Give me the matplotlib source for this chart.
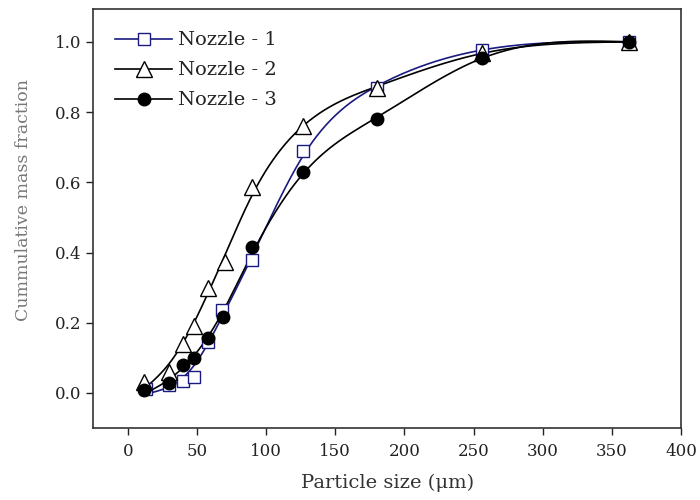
import numpy as np
import matplotlib
matplotlib.use("Agg")
import matplotlib.pyplot as plt

# particle size (um) and cumulative mass fraction
size1 = [13, 30, 40, 48, 58, 68, 90, 127, 180, 256, 362]
frac1 = [0.01, 0.023, 0.034, 0.046, 0.145, 0.236, 0.38, 0.69, 0.87, 0.977, 1.0]

size2 = [12, 30, 40, 48, 58, 70, 90, 127, 180, 256, 362]
frac2 = [0.031, 0.06, 0.14, 0.19, 0.30, 0.373, 0.587, 0.76, 0.87, 0.968, 1.0]

size3 = [12, 30, 40, 48, 58, 69, 90, 127, 180, 256, 362]
frac3 = [0.008, 0.028, 0.08, 0.10, 0.157, 0.217, 0.416, 0.63, 0.78, 0.955, 1.0]

labels = ["Nozzle - 1", "Nozzle - 2", "Nozzle - 3"]


def smooth_line(x, y, n=400, lam=2000.0):
    # penalised least squares (smoothing spline style) so the line is smooth
    # and runs close to the points, like the fitted curves in the original
    x = np.asarray(x, float)
    y = np.asarray(y, float)
    g = np.linspace(x[0], x[-1], n)
    h = g[1] - g[0]
    B = np.zeros((len(x), n))
    for i, xi in enumerate(x):
        k = min(int((xi - g[0]) / h), n - 2)
        t = (xi - g[k]) / h
        B[i, k] = 1 - t
        B[i, k + 1] = t
    D = np.zeros((n - 2, n))
    for i in range(n - 2):
        D[i, i:i + 3] = [1, -2, 1]
    D /= h**2
    f = np.linalg.solve(B.T @ B + lam * h * D.T @ D, B.T @ y)
    return g, f


plt.rcParams['font.family'] = ['DejaVu Serif']

fig = plt.figure(figsize=(7, 5), dpi=100)
ax = fig.add_axes([0.133, 0.144, 0.840, 0.838])

series = [
    (size1, frac1, '#1a1a80', dict(marker='s', mfc='white', mec='#1a1a80', ms=9, mew=1.0)),
    (size2, frac2, 'black', dict(marker='^', mfc='white', mec='black', ms=11, mew=1.0)),
    (size3, frac3, 'black', dict(marker='o', mfc='black', mec='black', ms=9)),
]

for (xs, ys, col, mk), lab in zip(series, labels):
    gx, gy = smooth_line(xs, ys)
    ax.plot(gx, gy, color=col, lw=1.2, zorder=2)
    ax.plot(xs, ys, ls='none', zorder=3, **mk)
    # legend proxy
    ax.plot([], [], color=col, lw=1.2, label=lab, **mk)

ax.set_xlim(-25, 400)
ax.set_ylim(-0.1, 1.094)
ax.set_xticks(np.arange(0, 401, 50))
ax.set_yticks(np.arange(0, 1.01, 0.2))
ax.yaxis.set_major_formatter(matplotlib.ticker.FormatStrFormatter('%.1f'))
ax.tick_params(direction='out', length=5, width=1, labelsize=12, colors='#222222')
ax.tick_params(axis='x', pad=6)
for s in ax.spines.values():
    s.set_linewidth(1.2)
    s.set_color('#333333')

ax.set_xlabel('Particle size (\u03bcm)', fontsize=14, color='#333333', labelpad=10)
ax.set_ylabel('Cummulative mass fraction', fontsize=12.5, color='#777777')
ax.yaxis.set_label_coords(-0.104, 0.544)

leg = ax.legend(loc='upper left', frameon=False, fontsize=14, handlelength=2.9,
                handletextpad=0.3, labelspacing=0.62, borderaxespad=0.75)
for t in leg.get_texts():
    t.set_color('#222222')

fig.savefig('out.png', dpi=100)
